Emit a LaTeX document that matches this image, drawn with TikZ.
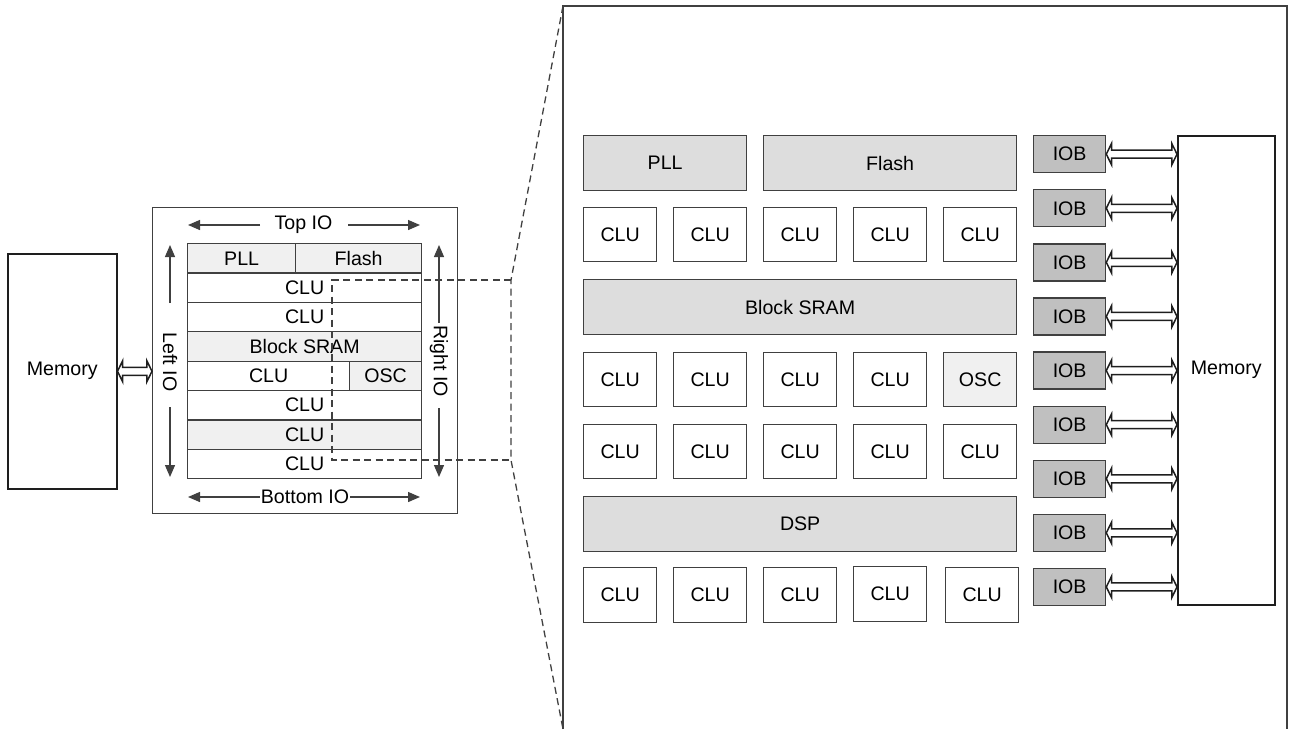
\documentclass[tikz,border=0pt]{standalone}
\usepackage{fontspec}
\setmainfont{Liberation Sans}
\usetikzlibrary{arrows.meta,calc}
\definecolor{linec}{HTML}{404040}
\definecolor{darkc}{HTML}{1E1E1E}
\definecolor{bigfill}{HTML}{DDDDDD}
\definecolor{lightfill}{HTML}{F0F0F0}
\definecolor{iobfill}{HTML}{C0C0C0}
\newcommand\fs{\fontsize{9.8pt}{11pt}\selectfont}
\newcommand\bx[7]{\node[blk,#6,minimum width={(#4-#2)*0.5pt},minimum height={(#5-#3)*0.5pt}] (#1) at (#2,#3) {#7};}
\newcommand\harrow[2]{\draw[harr] let \p1=(#1), \p2=(#2) in (\x1,\y1) -- ++(2.6pt,5.3pt) -- ++(0pt,-3.3pt) -- (\x2-2.6pt,\y1+2pt) -- ++(0pt,3.3pt) -- (\x2,\y1) -- ++(-2.6pt,-5.3pt) -- ++(0pt,3.3pt) -- (\x1+2.6pt,\y1-2pt) -- ++(0pt,-3.3pt) -- cycle;}
\begin{document}
\begin{tikzpicture}[x=0.5pt,y=-0.5pt,
  blk/.style={draw=linec,line width=0.65pt,inner sep=0pt,anchor=north west,font=\fs,text=black},
  big/.style={fill=bigfill},
  light/.style={fill=lightfill},
  iob/.style={fill=iobfill},
  plain/.style={fill=white},
  memb/.style={fill=white,draw=darkc,line width=0.75pt},
  harr/.style={draw=darkc,fill=white,line width=0.75pt,line join=miter},
  ioarr/.style={draw=linec,line width=0.65pt,-{Triangle[length=6pt,width=5pt]}},
  iotxt/.style={font=\fs,text=black,inner sep=0pt},
  dsh/.style={draw=linec,line width=0.65pt,dash pattern=on 3.5pt off 2.25pt},
  frm/.style={draw=linec,line width=0.65pt}]
\useasboundingbox (0,0) rectangle (1289,729);

% ---------- left memory and chip ----------
\bx{lmem}{7}{253}{116}{488}{memb}{Memory}
\bx{chip}{152}{207}{457}{513}{plain}{}
\harrow{lmem.east}{chip.west |- lmem.east}

% grid rows
\pgfmathsetmacro\ra{243}
\pgfmathsetmacro\rb{272.375}
\pgfmathsetmacro\rc{301.75}
\pgfmathsetmacro\rd{331.125}
\pgfmathsetmacro\re{360.5}
\pgfmathsetmacro\rf{389.875}
\pgfmathsetmacro\rg{419.25}
\pgfmathsetmacro\rh{448.625}
\pgfmathsetmacro\ri{478}
\bx{gpll}{187}{\ra}{295}{\rb}{light}{PLL}
\bx{gflash}{295}{\ra}{421}{\rb}{light}{Flash}
\bx{gclu1}{187}{\rb}{421}{\rc}{plain}{CLU}
\bx{gclu2}{187}{\rc}{421}{\rd}{plain}{CLU}
\bx{gsram}{187}{\rd}{421}{\re}{light}{Block SRAM}
\bx{gclu3}{187}{\re}{349}{\rf}{plain}{CLU}
\bx{gosc}{349}{\re}{421}{\rf}{light}{OSC}
\bx{gclu4}{187}{\rf}{421}{\rg}{plain}{CLU}
\bx{gclu5}{187}{\rg}{421}{\rh}{light}{CLU}
\bx{gclu6}{187}{\rh}{421}{\ri}{plain}{CLU}

% IO arrows
\coordinate (t0) at (188,225); \coordinate (t1) at (260,225);
\coordinate (t2) at (348,225); \coordinate (t3) at (420,225);
\draw[ioarr] (t1) -- (t0);
\draw[ioarr] (t2) -- (t3);
\node[iotxt] (toptxt) at (303.5,225) {Top IO};

\coordinate (b0) at (188,497); \coordinate (b1) at (420,497);
\draw[ioarr,{Triangle[length=6pt,width=5pt]}-{Triangle[length=6pt,width=5pt]}] (b0) -- (b1);
\node[iotxt,fill=white,inner xsep=0.3pt] (bottxt) at (305,497) {Bottom IO};

\coordinate (l0) at (170,245); \coordinate (l1) at (170,303);
\coordinate (l2) at (170,407); \coordinate (l3) at (170,477);
\draw[ioarr] (l1) -- (l0);
\draw[ioarr] (l2) -- (l3);
\node[iotxt,rotate=-90] (lefttxt) at (170,362) {Left IO};

\coordinate (r0) at (439,245); \coordinate (r1) at (439,323);
\coordinate (r2) at (439,408); \coordinate (r3) at (439,477);
\draw[ioarr] (r1) -- (r0);
\draw[ioarr] (r2) -- (r3);
\node[iotxt,rotate=-90] (righttxt) at (439,361) {Right IO};

% ---------- zoom frame ----------
\coordinate (fbl) at (563,729); \coordinate (ftl) at (563,6);
\coordinate (ftr) at (1287,6); \coordinate (fbr) at (1287,729);
\draw[frm] (fbl) -- (ftl) -- (ftr) -- (fbr);

\coordinate (dA) at (511,280); \coordinate (dB) at (332,280);
\coordinate (dC) at (332,460); \coordinate (dD) at (511,460);
\draw[dsh] (dA) -- (dB) -- (dC) -- (dD);
\draw[dsh] (ftl) -- (dA) -- (dD) -- (fbl);

% ---------- detailed view ----------
\bx{pll}{583}{135}{746}{190}{big}{PLL}
\bx{flash}{763}{135}{1016}{190}{big}{Flash}
\foreach \i/\x in {1/583,2/673,3/763,4/853,5/943}{
  \bx{cA\i}{\x}{207}{\x+73}{261}{plain}{CLU}
}
\bx{sram}{583}{279}{1016}{334}{big}{Block SRAM}
\foreach \i/\x in {1/583,2/673,3/763,4/853}{
  \bx{cB\i}{\x}{352}{\x+73}{406}{plain}{CLU}
}
\bx{osc}{943}{352}{1016}{406}{light}{OSC}
\foreach \i/\x in {1/583,2/673,3/763,4/853,5/943}{
  \bx{cC\i}{\x}{424}{\x+73}{478}{plain}{CLU}
}
\bx{dsp}{583}{496}{1016}{551}{big}{DSP}
\foreach \i/\x/\y in {1/583/567,2/673/567,3/763/567,4/853/565.5,5/945/567}{
  \bx{cD\i}{\x}{\y}{\x+73}{\y+55}{plain}{CLU}
}

\bx{rmem}{1177}{135}{1274}{604}{memb}{Memory}
\foreach \i in {0,...,8}{
  \pgfmathsetmacro\yt{135+54.1*\i}
  \bx{iob\i}{1033}{\yt}{1105}{\yt+37}{iob}{IOB}
  \harrow{iob\i.east}{rmem.west |- iob\i.east}
}
\end{tikzpicture}
\end{document}
